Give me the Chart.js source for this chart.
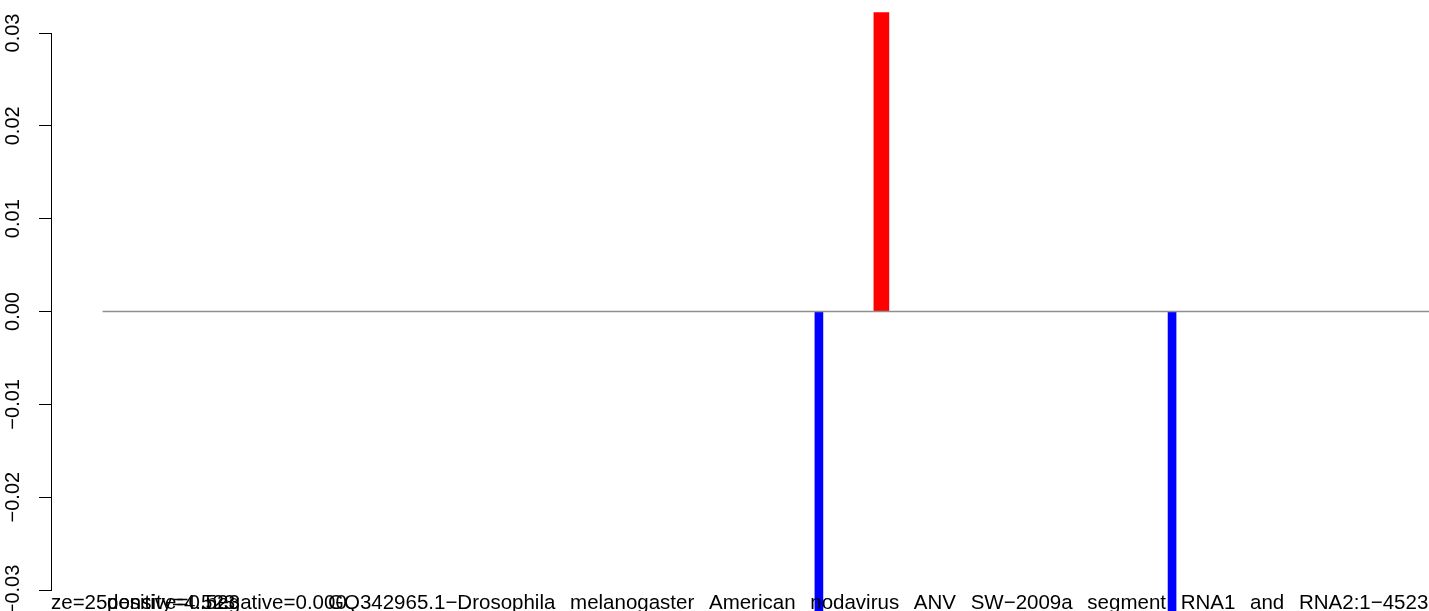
<!DOCTYPE html>
<html>
<head>
<meta charset="utf-8">
<title>nodavirus sRNA coverage</title>
<script src="https://cdn.jsdelivr.net/npm/chart.js@4/dist/chart.umd.min.js"></script>
<style>
  html, body { margin: 0; padding: 0; background: #fff; }
  #wrap { width: 1429px; height: 611px; position: relative; }
</style>
</head>
<body>
<div id="wrap"><canvas id="myChart"></canvas></div>
<script>
// genome positions (nt) and normalised counts
const positiveX = [2656];
const positiveY = [0.0322];
const negativeX = [2443, 3647];
const negativeY = [-0.0345, -0.0345];
const genomeStart = 1;
const genomeEnd = 4523;
const yTicks = [-0.03, -0.02, -0.01, 0.00, 0.01, 0.02, 0.03];

// bottom caption, several strings printed over each other like in the original
const captionSize = 'size=25';
const captionPositive = 'positive=0.523';
const captionDensity = 'density=4.523';
const captionNegative = 'negative=0.000';
const captionTitle = 'GQ342965.1\u2212Drosophila melanogaster American nodavirus ANV SW\u22122009a segment RNA1 and RNA2:1\u22124523';

const fontFamily = '"Liberation Sans", Arial, Helvetica, sans-serif';

function toPoints(xs, ys) {
    return xs.map(function (x, i) { return { x: x, y: ys[i] }; });
}

const captionPlugin = {
    id: 'caption',
    afterDraw: function (chart) {
        const ctx = chart.ctx;
        const base = 608.5;
        ctx.save();
        ctx.font = '20.5px ' + fontFamily;
        ctx.fillStyle = '#000';
        ctx.textBaseline = 'alphabetic';
        ctx.textAlign = 'left';

        // first string is cut at the axis
        ctx.save();
        ctx.beginPath();
        ctx.rect(51, 0, chart.width, chart.height);
        ctx.clip();
        ctx.fillText(captionSize, 51 - ctx.measureText('si').width, base);
        ctx.restore();

        ctx.fillText(captionPositive, 107, base);
        ctx.fillText(captionDensity, 107, base);
        ctx.fillText(captionNegative, 206, base);

        // wide word gaps
        let x = 328;
        const gap = ctx.measureText(' ').width + 9.0;
        captionTitle.split(' ').forEach(function (word) {
            ctx.fillText(word, x, base);
            x += ctx.measureText(word).width + gap;
        });
        ctx.restore();
    }
};

const data = {
    datasets: [
        {
            type: 'line',
            label: 'baseline',
            data: [{ x: genomeStart, y: 0 }, { x: genomeEnd, y: 0 }],
            borderColor: '#8f8f8f',
            borderWidth: 1.4,
            pointRadius: 0,
            order: 0
        },
        {
            type: 'bar',
            label: 'positive',
            data: toPoints(positiveX, positiveY),
            backgroundColor: '#ff0000',
            barThickness: 15,
            grouped: false,
            clip: false,
            order: 1
        },
        {
            type: 'bar',
            label: 'negative',
            data: toPoints(negativeX, negativeY),
            backgroundColor: '#0000ff',
            barThickness: 8,
            grouped: false,
            clip: false,
            order: 1
        }
    ]
};

const options = {
    responsive: true,
    maintainAspectRatio: false,
    animation: false,
    layout: { padding: { top: 33, bottom: 21, left: 0, right: 0 } },
    plugins: {
        legend: { display: false },
        tooltip: { enabled: false }
    },
    scales: {
        x: {
            type: 'linear',
            min: -175,
            max: genomeEnd,
            offset: false,
            display: false
        },
        y: {
            type: 'linear',
            min: yTicks[0],
            max: yTicks[yTicks.length - 1],
            afterFit: function (scale) { scale.width = 51; },
            afterBuildTicks: function (scale) {
                scale.ticks = yTicks.map(function (v) { return { value: v }; });
            },
            grid: {
                display: true,
                drawOnChartArea: false,
                drawTicks: true,
                tickLength: 12,
                color: '#000',
                lineWidth: 1
            },
            border: { display: true, color: '#000', width: 1 },
            ticks: {
                autoSkip: false,
                minRotation: 90,
                maxRotation: 90,
                crossAlign: 'center',
                padding: 0,
                color: '#000',
                font: { family: fontFamily, size: 20 },
                callback: function (v) {
                    if (Math.abs(v) < 1e-9) v = 0;
                    return v.toFixed(2).replace('-', '\u2212');
                }
            }
        }
    }
};

const config = {
    type: 'bar',
    data: data,
    options: options,
    plugins: [captionPlugin]
};

window.onload = function () {
    new Chart(document.getElementById('myChart'), config);
};
</script>
</body>
</html>
